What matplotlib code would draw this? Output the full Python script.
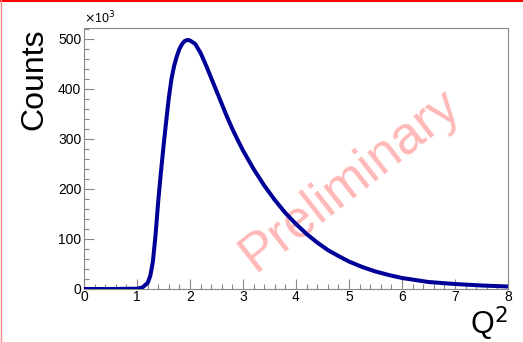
import matplotlib
matplotlib.use('Agg')
import matplotlib.pyplot as plt
from matplotlib.ticker import MultipleLocator
from matplotlib.lines import Line2D

plt.rcParams['font.family'] = ['Liberation Sans', 'DejaVu Sans']

# Q^2 values and counts (in thousands)
q2 = [0.0, 0.5, 1.0, 1.1, 1.2, 1.25, 1.3, 1.35, 1.4, 1.45, 1.5, 1.55, 1.6,
      1.65, 1.7, 1.75, 1.8, 1.85, 1.9, 1.95, 2.0, 2.1, 2.2, 2.3, 2.4, 2.5,
      2.6, 2.7, 2.8, 2.9, 3.0, 3.2, 3.4, 3.6, 3.8, 4.0, 4.2, 4.4, 4.6, 4.8,
      5.0, 5.25, 5.5, 5.75, 6.0, 6.25, 6.5, 6.75, 7.0, 7.25, 7.5, 7.75, 8.0]
counts = [0, 0, 0.5, 3, 12, 26, 55, 108, 175, 232, 285, 335, 382,
          420, 446, 465, 480, 490, 496, 498, 497, 490, 472, 448, 422, 396,
          370, 344, 320, 298, 277, 240, 207, 178, 152, 130, 110, 93, 78, 66,
          55, 44, 35, 28, 22, 18, 14, 12, 10, 8.5, 7, 6, 5]

fig = plt.figure(figsize=(5.23, 3.42), dpi=100)
ax = fig.add_axes([84 / 523, 53 / 342, 424 / 523, 261 / 342])

ax.plot(q2, counts, color='#000099', lw=2.9, solid_joinstyle='round',
        solid_capstyle='round', zorder=3)

ax.set_xlim(0, 8)
ax.set_ylim(0, 522)
ax.xaxis.set_major_locator(MultipleLocator(1))
ax.xaxis.set_minor_locator(MultipleLocator(0.2))
ax.yaxis.set_major_locator(MultipleLocator(100))
ax.yaxis.set_minor_locator(MultipleLocator(20))

for s in ax.spines.values():
    s.set_color('#888888')
    s.set_linewidth(0.8)

ax.tick_params(which='both', direction='in', color='#888888', width=0.8,
               labelsize=10, top=False, right=False)
ax.tick_params(which='major', length=7)
ax.tick_params(which='minor', length=3.5)
ax.tick_params(axis='x', pad=1)
ax.tick_params(axis='y', pad=2)

ax.set_ylabel('Counts', fontsize=23, loc='top', labelpad=6)
ax.text(1.0, -0.06, 'Q$^2$', transform=ax.transAxes, ha='right', va='top',
        fontsize=22)
ax.text(0.0, 1.005, r'$\times$10$^3$', transform=ax.transAxes, ha='left',
        va='bottom', fontsize=9)

# watermark
ax.text(5.02, 218, 'Preliminary', rotation=38, ha='center', va='center',
        fontsize=38, color='#ffb8b8', zorder=1)

# red frame on top and left
fig.add_artist(Line2D([0, 1], [0.997, 0.997], transform=fig.transFigure,
                      color='red', lw=1.5))
fig.add_artist(Line2D([0.001, 0.001], [0, 1], transform=fig.transFigure,
                      color='#ff8888', lw=1))

fig.savefig('out.png', dpi=100)
